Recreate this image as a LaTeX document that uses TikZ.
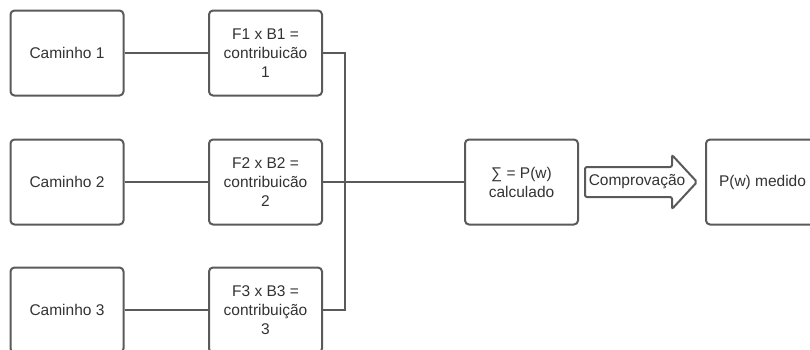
\documentclass[tikz,border=0pt]{standalone}
\usepackage{fontspec}
\setmainfont{Liberation Sans}
\begin{document}
\begin{tikzpicture}[x=1pt,y=-1pt,
  box/.style={draw=linegray, line width=2pt, rounded corners=4pt, fill=white,
    minimum width=113pt, minimum height=85pt, align=center, inner sep=2pt,
    font=\fontsize{15.5}{19}\selectfont, text=textgray},
  wire/.style={draw=linegray, line width=2pt}]
\definecolor{linegray}{HTML}{5A5A5A}
\definecolor{textgray}{HTML}{333333}
\useasboundingbox (0,0) rectangle (810,349);
\clip (0,0) rectangle (810,349);

% path boxes and contribution boxes
\node[box] (c1) at (67,53) {Caminho 1};
\node[box] (f1) at (265.5,53) {F1 x B1 =\\contribuicão\\1};
\node[box] (c2) at (67,182) {Caminho 2};
\node[box] (f2) at (265.5,182) {F2 x B2 =\\contribuicão\\2};
\node[box] (c3) at (67,310) {Caminho 3};
\node[box] (f3) at (265.5,310) {F3 x B3 =\\contribuição\\3};

% sum and measured boxes
\node[box] (sum) at (521.5,182) {∑ = P(w)\\calculado};
\node[box] (med) at (762.5,182) {P(w) medido};

% connectors
\draw[wire] (c1) -- (f1);
\draw[wire] (c2) -- (f2);
\draw[wire] (c3) -- (f3);
\coordinate (bus) at (345,182);
\draw[wire] (f1.east) -- (bus |- f1.east) -- (bus |- f3.east) -- (f3.east);
\draw[wire] (f2.east) -- (sum.west);

% check arrow
\coordinate (chk) at (637,182);
\draw[draw=linegray, line width=2pt, rounded corners=2pt, fill=white]
  (585,167) -- (672,167) -- (672,155) -- (697,182) -- (672,209) -- (672,197)
  -- (585,197) -- cycle;
\node[font=\fontsize{15.5}{19}\selectfont, text=textgray] (chktext) at (chk) {Comprovação};
\end{tikzpicture}
\end{document}
